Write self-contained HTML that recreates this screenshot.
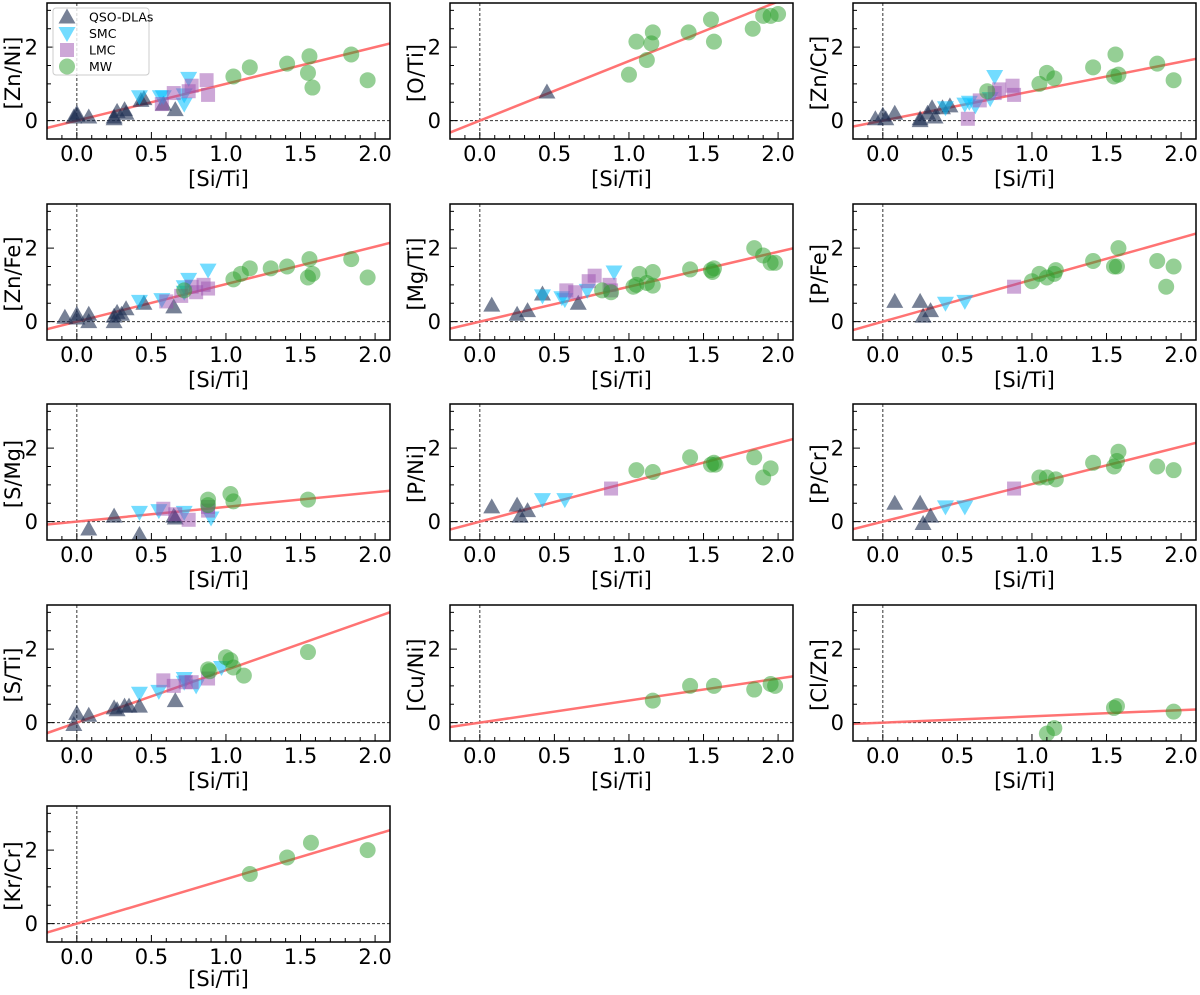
<!DOCTYPE html>
<html><head><meta charset="utf-8"><style>
body{margin:0;background:#fff;}
svg{display:block;font-family:"DejaVu Sans","Liberation Sans",sans-serif;}
</style></head><body>
<svg id="fig" width="1200" height="995" viewBox="0 0 1200 995"></svg>
<script>
// ---- data ----
const panelNames = ["[Zn/Ni]","[O/Ti]","[Zn/Cr]","[Zn/Fe]","[Mg/Ti]","[P/Fe]","[S/Mg]","[P/Ni]","[P/Cr]","[S/Ti]","[Cu/Ni]","[Cl/Zn]","[Kr/Cr]"];
const slopes = [1.0,1.62,0.8,1.02,0.95,1.14,0.4,1.07,1.02,1.43,0.6,0.17,1.21];
const xTicks = [0.0,0.5,1.0,1.5,2.0];
const xTickLabels = ["0.0","0.5","1.0","1.5","2.0"];
const yTicks = [0,2];
const yTickLabels = ["0","2"];
const seriesNames = ["QSO-DLAs","SMC","LMC","MW"];
const qsoData = [
 [[0,0.15],[-0.02,0.1],[0,0.2],[0.08,0.1],[0.25,0.1],[0.25,0.05],[0.27,0.25],[0.32,0.3],[0.33,0.2],[0.43,0.55],[0.45,0.6],[0.58,0.45],[0.66,0.3]],
 [[0.45,0.78]],
 [[-0.05,0.05],[0,0.15],[0.02,0.05],[0.08,0.2],[0.25,0.05],[0.25,0],[0.3,0.2],[0.33,0.35],[0.35,0.1],[0.4,0.35],[0.45,0.4]],
 [[-0.08,0.12],[0,0.2],[0,0.1],[0.08,0.2],[0.08,0],[0.25,0.15],[0.27,0.25],[0.3,0.2],[0.33,0.35],[0.45,0.5],[0.65,0.4],[0.25,0]],
 [[0.08,0.45],[0.25,0.2],[0.32,0.3],[0.42,0.75],[0.66,0.5]],
 [[0.08,0.55],[0.25,0.55],[0.27,0.15],[0.32,0.3]],
 [[0.08,-0.2],[0.25,0.15],[0.42,-0.35],[0.65,0.15],[0.66,0.1]],
 [[0.08,0.4],[0.25,0.45],[0.27,0.15],[0.32,0.3]],
 [[0.08,0.5],[0.25,0.5],[0.27,-0.05],[0.32,0.15]],
 [[-0.02,-0.05],[0,0.25],[0.08,0.2],[0.25,0.4],[0.27,0.35],[0.32,0.45],[0.35,0.45],[0.42,0.45],[0.66,0.6]],
 [],[],[]
];
const smcData = [
 [[0.42,0.65],[0.56,0.65],[0.58,0.65],[0.72,0.45],[0.75,1.15],[0.72,0.7]],
 [],
 [[0.42,0.35],[0.55,0.45],[0.58,0.5],[0.72,0.6],[0.75,1.2],[0.62,0.4]],
 [[0.42,0.55],[0.57,0.6],[0.72,0.95],[0.75,1.15],[0.88,1.4],[0.72,0.8]],
 [[0.42,0.7],[0.55,0.65],[0.57,0.6],[0.72,0.85],[0.9,1.35]],
 [[0.42,0.5],[0.55,0.55]],
 [[0.42,0.25],[0.55,0.3],[0.72,0.25],[0.9,0.1]],
 [[0.42,0.6],[0.57,0.6]],
 [[0.42,0.4],[0.55,0.4]],
 [[0.42,0.8],[0.55,0.85],[0.72,1.1],[0.8,1.0],[0.97,1.5],[0.72,1.2]],
 [],[],[]
];
const lmcData = [
 [[0.57,0.45],[0.65,0.75],[0.75,0.8],[0.77,0.95],[0.87,1.1],[0.88,0.7]],
 [],
 [[0.57,0.05],[0.65,0.55],[0.78,0.85],[0.75,0.75],[0.87,0.95],[0.88,0.7]],
 [[0.6,0.55],[0.7,0.7],[0.77,0.95],[0.85,1.0],[0.88,0.9],[0.8,0.8]],
 [[0.58,0.85],[0.64,0.8],[0.73,1.1],[0.77,1.25],[0.87,1.0],[0.88,0.85]],
 [[0.88,0.95]],
 [[0.58,0.35],[0.66,0.2],[0.75,0.05],[0.88,0.3],[0.88,0.4]],
 [[0.88,0.9]],
 [[0.88,0.9]],
 [[0.58,1.15],[0.65,1.0],[0.73,1.1],[0.77,1.1],[0.88,1.2]],
 [],[],[]
];
const mwData = [
 [[1.05,1.2],[1.16,1.45],[1.41,1.55],[1.56,1.75],[1.55,1.3],[1.58,0.9],[1.84,1.8],[1.95,1.1]],
 [[1.0,1.25],[1.05,2.15],[1.12,1.65],[1.15,2.1],[1.16,2.4],[1.4,2.4],[1.55,2.75],[1.57,2.15],[1.83,2.5],[1.9,2.85],[1.95,2.85],[2.0,2.9]],
 [[0.7,0.8],[1.05,1.0],[1.1,1.3],[1.15,1.15],[1.41,1.45],[1.56,1.8],[1.55,1.2],[1.58,1.25],[1.84,1.55],[1.95,1.1]],
 [[0.72,0.85],[1.05,1.15],[1.1,1.3],[1.16,1.45],[1.3,1.45],[1.41,1.5],[1.56,1.7],[1.55,1.2],[1.58,1.3],[1.84,1.7],[1.95,1.2]],
 [[0.82,0.85],[0.88,0.8],[1.03,0.95],[1.05,1.0],[1.07,1.3],[1.12,1.05],[1.16,1.35],[1.16,0.98],[1.41,1.42],[1.55,1.4],[1.57,1.45],[1.56,1.35],[1.84,2.0],[1.9,1.8],[1.95,1.6],[1.98,1.6]],
 [[1.0,1.1],[1.05,1.3],[1.1,1.2],[1.15,1.3],[1.16,1.4],[1.41,1.65],[1.55,1.5],[1.57,1.5],[1.58,2.0],[1.84,1.65],[1.9,0.95],[1.95,1.5]],
 [[0.88,0.6],[0.88,0.45],[1.03,0.75],[1.05,0.55],[1.55,0.6]],
 [[1.05,1.4],[1.16,1.35],[1.41,1.75],[1.55,1.55],[1.57,1.6],[1.58,1.55],[1.84,1.75],[1.9,1.2],[1.95,1.45]],
 [[1.05,1.2],[1.1,1.2],[1.16,1.15],[1.41,1.6],[1.55,1.5],[1.57,1.65],[1.58,1.9],[1.84,1.5],[1.95,1.4]],
 [[0.88,1.45],[0.89,1.4],[1.0,1.78],[1.03,1.7],[1.05,1.5],[1.12,1.28],[1.55,1.92]],
 [[1.16,0.6],[1.41,1.0],[1.57,1.0],[1.84,0.9],[1.95,1.05],[1.98,1.0]],
 [[1.1,-0.3],[1.15,-0.15],[1.55,0.4],[1.57,0.45],[1.95,0.3]],
 [[1.16,1.35],[1.41,1.8],[1.57,2.2],[1.95,2.0]]
];
// ---- layout ----
const NS="http://www.w3.org/2000/svg";
const svg=document.getElementById('fig');
const colLeft=[47,450,853], rowTop=[3,204,404,605,806], W=343, H=136;
const XMIN=-0.2,XMAX=2.1,YMIN=-0.5,YMAX=3.2;
function mk(tag,attrs,parent){const e=document.createElementNS(NS,tag);for(const k in attrs)e.setAttribute(k,attrs[k]);(parent||svg).appendChild(e);return e;}
const colors={q:["#1c2d50",0.6],s:["#00bfff",0.55],l:["#9b4fb0",0.5],m:["#2ca02c",0.5]};
function marker(g,kind,cx,cy){
  let e;
  if(kind==='q') e=mk('polygon',{points:`${cx},${cy-8.5} ${cx-8.5},${cy+6.5} ${cx+8.5},${cy+6.5}`},g);
  else if(kind==='s') e=mk('polygon',{points:`${cx-8.5},${cy-6.5} ${cx+8.5},${cy-6.5} ${cx},${cy+8.5}`},g);
  else if(kind==='l') e=mk('rect',{x:cx-7,y:cy-7,width:14,height:14},g);
  else e=mk('circle',{cx:cx,cy:cy,r:8},g);
  e.setAttribute('fill',colors[kind][0]);e.setAttribute('fill-opacity',colors[kind][1]);
  return e;
}
panelNames.forEach((name,i)=>{
  const L=colLeft[i%3],T=rowTop[Math.floor(i/3)];
  const sx=v=>L+(v-XMIN)/(XMAX-XMIN)*W;
  const sy=v=>T+(YMAX-v)/(YMAX-YMIN)*H;
  const g=mk('g',{});
  
  
  const cid='clip'+i;
  const cp=mk('clipPath',{id:cid},g);mk('rect',{x:L,y:T,width:W,height:H},cp);
  const plot=mk('g',{'clip-path':`url(#${cid})`},g);
  const vl=mk('line',{x1:sx(0),x2:sx(0),y1:T,y2:T+H,stroke:'#333','stroke-width':1,'stroke-dasharray':'3,2'},plot);
  
  
  const hl=mk('line',{x1:L,x2:L+W,y1:sy(0),y2:sy(0),stroke:'#333','stroke-width':1,'stroke-dasharray':'3,2'},plot);
  
  
  const fl=mk('line',{x1:sx(XMIN),y1:sy(slopes[i]*XMIN),x2:sx(XMAX),y2:sy(slopes[i]*XMAX),stroke:'#ff6b6b','stroke-width':2.5,'stroke-opacity':0.95},plot);
  
  
  [['q',qsoData],['s',smcData],['l',lmcData],['m',mwData]].forEach(([k,arr])=>{
    arr[i].forEach(p=>{
      const m=marker(plot,k,sx(p[0]),sy(p[1]));
      
      
    });
  });
  const fr=mk('rect',{x:L,y:T,width:W,height:H,fill:'none',stroke:'#000','stroke-width':1.5},g);
  
  
  for(let k=-2;k<=21;k++){ const v=k/10;
    const major=(k%5===0);
    mk('line',{x1:sx(v),x2:sx(v),y1:T+H,y2:T+H-(major?7:4),stroke:'#000','stroke-width':1},g);}
  xTicks.forEach((v,j)=>{const t=mk('text',{x:sx(v),y:T+H+22,'font-size':21,'text-anchor':'middle'},g);t.textContent=xTickLabels[j];
    });
  for(let v=0;v<=3;v+=0.5){const major=(v===0||v===2);
    mk('line',{x1:L,x2:L+(major?7:4),y1:sy(v),y2:sy(v),stroke:'#000','stroke-width':1},g);}
  yTicks.forEach((v,j)=>{const t=mk('text',{x:L-9,y:sy(v)+7.5,'font-size':21,'text-anchor':'end'},g);t.textContent=yTickLabels[j];
    });
  const xl=mk('text',{x:L+W/2,y:Math.min(T+H+47,986),'font-size':21,'text-anchor':'middle'},g);xl.textContent='[Si/Ti]';
  
  const yc=T+H/2+2,xc=L-27;
  const yl=mk('text',{x:xc,y:yc,'font-size':21,'text-anchor':'middle',transform:`rotate(-90 ${xc} ${yc})`},g);yl.textContent=name;
  
});
// legend
const lg=mk('g',{});


mk('rect',{x:53,y:8,width:96,height:67,rx:3,fill:'#fff','fill-opacity':0.8,stroke:'#ccc','stroke-width':1},lg);
['q','s','l','m'].forEach((k,j)=>{
  const y=17+j*16.5;
  const e=marker(lg,k,67,y);
  
  
  const t=mk('text',{x:89,y:y+4.5,'font-size':12.5},lg);t.textContent=seriesNames[j];
  
  
});
</script>
</body></html>
